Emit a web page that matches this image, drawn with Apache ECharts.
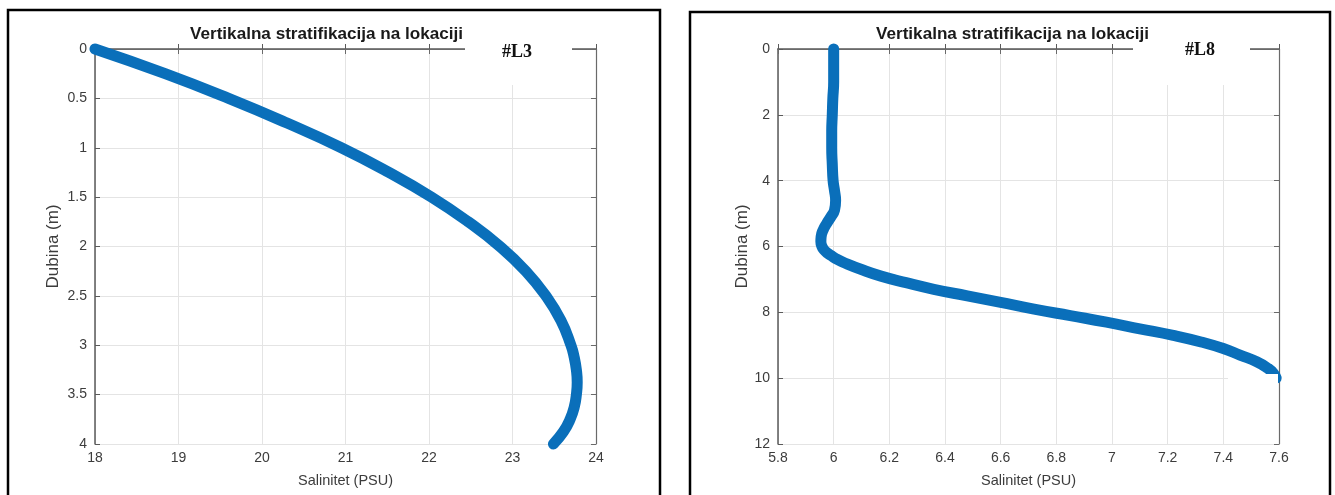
<!DOCTYPE html>
<html>
<head>
<meta charset="utf-8">
<script src="https://cdn.jsdelivr.net/npm/echarts@6/dist/echarts.min.js"></script>
<style>html,body{margin:0;padding:0;background:#fff;}#c{width:1335px;height:495px;}</style>
</head>
<body>
<div id="c"></div>
<script>
// L3 profile: depth (m) and salinity (PSU)
const depthL3 = [0, 0.25, 0.5, 0.75, 1.0, 1.25, 1.5, 1.75, 2.0, 2.25, 2.5, 2.75, 3.0, 3.125, 3.25, 3.375, 3.5, 3.625, 3.75, 3.875, 4.0];
const salL3   = [18.0, 18.84, 19.6, 20.3, 20.95, 21.52, 22.03, 22.47, 22.85, 23.16, 23.4, 23.58, 23.70, 23.74, 23.765, 23.775, 23.765, 23.74, 23.69, 23.61, 23.49];
// L8 profile
const depthL8 = [0, 0.5, 1, 1.5, 2, 2.5, 3, 3.5, 4, 4.3, 4.6, 4.9, 5.1, 5.3, 5.5, 5.7, 5.85, 6.0, 6.1, 6.2, 6.3, 6.4, 6.5, 6.7, 6.9, 7.1, 7.3, 7.5, 7.7, 7.9, 8.1, 8.3, 8.5, 8.7, 8.9, 9.1, 9.3, 9.5, 9.7, 9.85, 10.0];
const salL8   = [6.0, 6.0, 6.0, 5.997, 5.995, 5.993, 5.993, 5.995, 5.998, 6.003, 6.007, 6.003, 5.99, 5.975, 5.962, 5.955, 5.954, 5.958, 5.965, 5.978, 5.995, 6.015, 6.04, 6.10, 6.17, 6.26, 6.36, 6.48, 6.60, 6.72, 6.85, 6.98, 7.10, 7.22, 7.32, 7.40, 7.46, 7.52, 7.56, 7.58, 7.59];

const titleText = 'Vertikalna stratifikacija na lokaciji';
const labelL3 = '#L3';
const labelL8 = '#L8';
const xName = 'Salinitet (PSU)';
const yName = 'Dubina (m)';

const FONT = '"Liberation Sans", Arial, sans-serif';
const lbl = {color: '#3c3c3c', fontSize: 14, fontFamily: FONT};
const fmt = v => String(+v.toFixed(2));

function axesFor(gi, xr, yr) {
  const x = [
    {gridIndex: gi, type: 'value', min: xr[0], max: xr[1], interval: xr[2], position: 'bottom',
     axisLine: {lineStyle: {color: '#5a5a5a', width: 1.5}},
     axisTick: {inside: true, length: 5, lineStyle: {color: '#5a5a5a'}},
     axisLabel: Object.assign({margin: 7, formatter: fmt}, lbl),
     splitLine: {show: true, lineStyle: {color: '#e4e4e4', width: 1}},
     name: xName, nameLocation: 'middle', nameGap: 29,
     nameTextStyle: {color: '#3c3c3c', fontSize: 14.5, fontFamily: FONT}},
    {gridIndex: gi, type: 'value', min: xr[0], max: xr[1], interval: xr[2], position: 'top',
     axisLine: {show: true, lineStyle: {color: '#6a6a6a', width: 1.2}},
     axisTick: {inside: true, length: 5, lineStyle: {color: '#6a6a6a'}},
     axisLabel: {show: false}, splitLine: {show: false}}
  ];
  const y = [
    {gridIndex: gi, type: 'value', min: yr[0], max: yr[1], interval: yr[2], inverse: true, position: 'left',
     axisLine: {show: true, lineStyle: {color: '#5a5a5a', width: 1.5}},
     axisTick: {show: true, inside: true, length: 5, lineStyle: {color: '#5a5a5a'}},
     axisLabel: Object.assign({margin: 8, formatter: fmt}, lbl),
     splitLine: {show: true, lineStyle: {color: '#e4e4e4', width: 1}},
     name: yName, nameLocation: 'middle', nameGap: yr[3],
     nameTextStyle: {color: '#3c3c3c', fontSize: 17, fontFamily: FONT}},
    {gridIndex: gi, type: 'value', min: yr[0], max: yr[1], interval: yr[2], inverse: true, position: 'right',
     axisLine: {show: true, lineStyle: {color: '#6a6a6a', width: 1.2}},
     axisTick: {show: true, inside: true, length: 5, lineStyle: {color: '#6a6a6a'}},
     axisLabel: {show: false}, splitLine: {show: false}}
  ];
  return {x, y};
}

const a0 = axesFor(0, [18, 24, 1], [0, 4, 0.5, 33]);
const a1 = axesFor(1, [5.8, 7.6, 0.2], [0, 12, 2, 26]);

const lineStyle = {width: 11, color: '#0a6fba', cap: 'round', join: 'round'};

const chart = echarts.init(document.getElementById('c'), null, {renderer: 'canvas'});
chart.setOption({
  animation: false,
  backgroundColor: '#fff',
  grid: [
    {left: 95, top: 49, width: 501, height: 395},
    {left: 778, top: 49, width: 501, height: 395}
  ],
  xAxis: [...a0.x, ...a1.x],
  yAxis: [...a0.y, ...a1.y],
  series: [
    {type: 'line', xAxisIndex: 0, yAxisIndex: 0, data: salL3.map((s, i) => [s, depthL3[i]]),
     showSymbol: false, smooth: true, clip: false, lineStyle: lineStyle, z: 5},
    {type: 'line', xAxisIndex: 2, yAxisIndex: 2, data: salL8.map((s, i) => [s, depthL8[i]]),
     showSymbol: false, smooth: true, clip: false, lineStyle: lineStyle, z: 5}
  ],
  graphic: [
    {type: 'rect', z: 100, shape: {x: 465, y: 28, width: 107, height: 57}, style: {fill: '#fff'}},
    {type: 'rect', z: 100, shape: {x: 1133, y: 28, width: 117, height: 57}, style: {fill: '#fff'}},
    {type: 'rect', z: 100, shape: {x: 1228, y: 374, width: 50, height: 66}, style: {fill: '#fff'}},
    {type: 'text', z: 101, x: 190, y: 35, scaleX: 1.07, style: {x: 0, y: 0, text: titleText, fill: '#1a1a1a',
      font: 'bold 16px ' + FONT, textAlign: 'left', textVerticalAlign: 'middle'}},
    {type: 'text', z: 101, x: 876, y: 35, scaleX: 1.07, style: {x: 0, y: 0, text: titleText, fill: '#1a1a1a',
      font: 'bold 16px ' + FONT, textAlign: 'left', textVerticalAlign: 'middle'}},
    {type: 'text', z: 101, style: {x: 517, y: 52, text: labelL3, fill: '#111',
      font: 'bold 18px "Liberation Serif", "Times New Roman", serif', textAlign: 'center', textVerticalAlign: 'middle'}},
    {type: 'text', z: 101, style: {x: 1200, y: 50, text: labelL8, fill: '#111',
      font: 'bold 18px "Liberation Serif", "Times New Roman", serif', textAlign: 'center', textVerticalAlign: 'middle'}},
    {type: 'rect', z: 102, shape: {x: 8, y: 10, width: 652, height: 510},
      style: {fill: 'none', stroke: '#000', lineWidth: 2.5}},
    {type: 'rect', z: 102, shape: {x: 690, y: 12, width: 640, height: 510},
      style: {fill: 'none', stroke: '#000', lineWidth: 2.5}}
  ]
});
</script>
</body>
</html>
